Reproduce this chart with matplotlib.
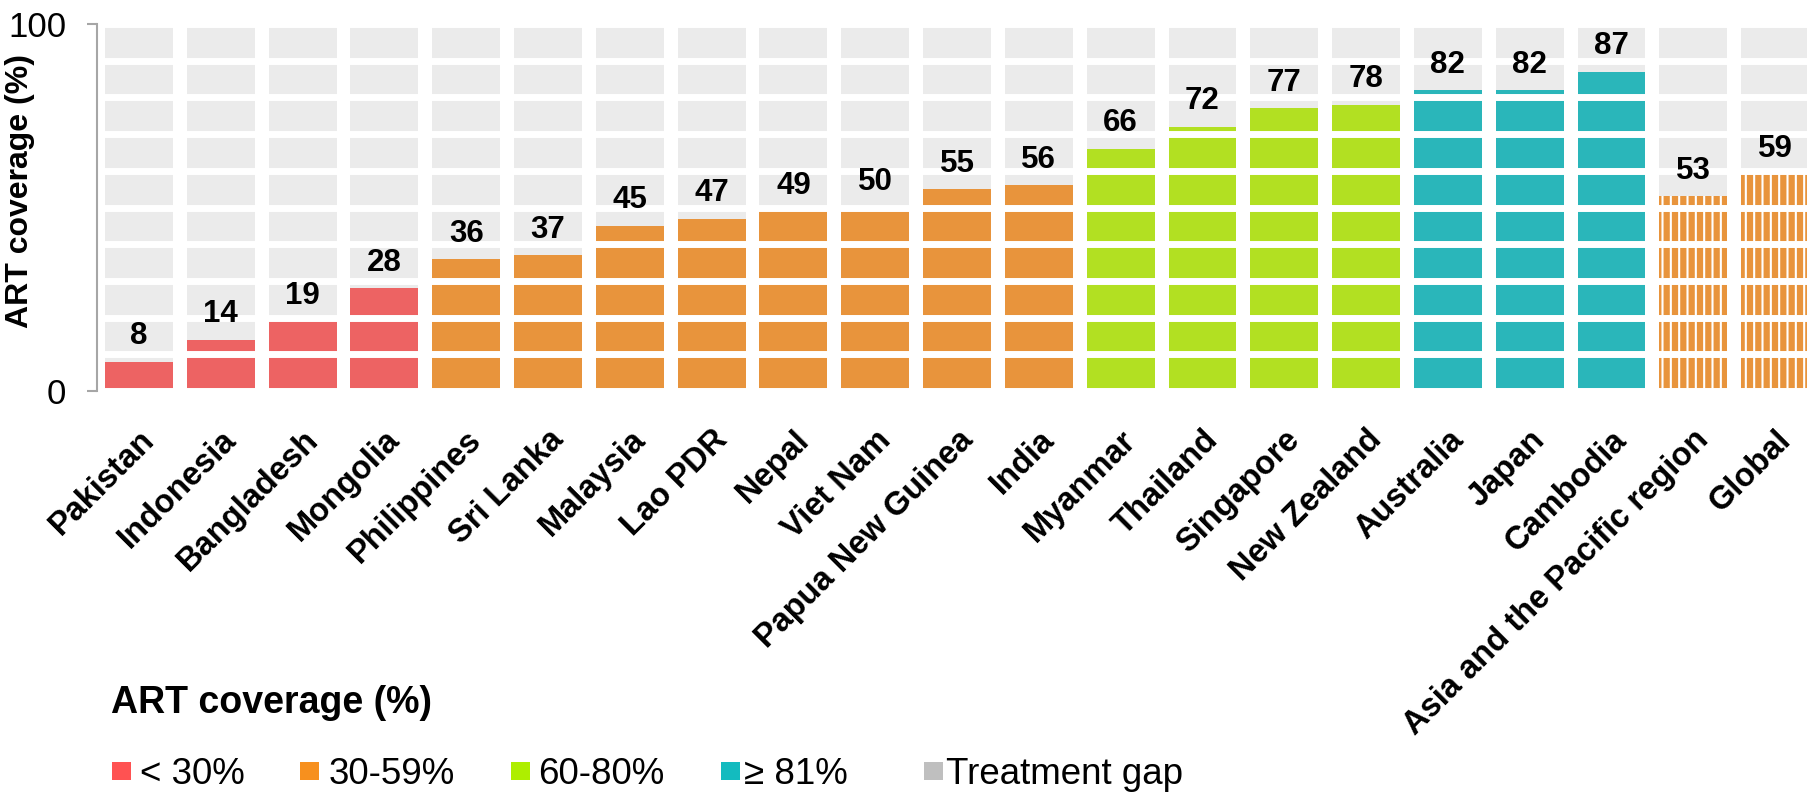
import matplotlib
matplotlib.use("Agg")
import matplotlib.pyplot as plt
from matplotlib.patches import Rectangle

plt.rcParams['font.family'] = ['Liberation Sans', 'DejaVu Sans']
plt.rcParams['hatch.color'] = 'white'
plt.rcParams['hatch.linewidth'] = 1.5

countries = ["Pakistan", "Indonesia", "Bangladesh", "Mongolia", "Philippines", "Sri Lanka",
             "Malaysia", "Lao PDR", "Nepal", "Viet Nam", "Papua New Guinea", "India",
             "Myanmar", "Thailand", "Singapore", "New Zealand", "Australia", "Japan",
             "Cambodia", "Asia and the Pacific region", "Global"]
coverage = [8, 14, 19, 28, 36, 37, 45, 47, 49, 50, 55, 56, 66, 72, 77, 78, 82, 82, 87, 53, 59]
aggregate = [False] * 19 + [True, True]

band_labels = ["< 30%", "30-59%", "60-80%", "\u2265 81%", "Treatment gap"]
bar_colors = ["#ED6363", "#E8943C", "#B2E022", "#2AB6BA"]
legend_colors = ["#FF5252", "#F7901E", "#AEEE00", "#13BBBF", "#BFBFBF"]
gap_color = "#EBEBEB"


def band(v):
    if v < 30:
        return 0
    if v < 60:
        return 1
    if v <= 80:
        return 2
    return 3


W, H = 1807, 793
fig = plt.figure(figsize=(W / 100, H / 100), dpi=100)
ax = fig.add_axes([97 / W, 1 - 391 / H, (W - 97) / W, (391 - 24) / H])

x = list(range(len(countries)))
bw = 0.83
ax.bar(x, [100] * len(x), width=bw, color=gap_color, linewidth=0, zorder=1)
for i, v in enumerate(coverage):
    c = bar_colors[band(v)]
    if aggregate[i]:
        ax.bar(i, v, width=bw, color=c, edgecolor='white', linewidth=0,
               hatch='||', zorder=2)
    else:
        ax.bar(i, v, width=bw, color=c, linewidth=0, zorder=2)
    ax.annotate(str(v), (i, v), xytext=(0, 12.5), textcoords='offset points',
                ha='center', va='baseline', fontsize=22.5, fontweight='bold',
                zorder=5)

# white separators every 10 units
ax.hlines(list(range(0, 101, 10)), -0.46, len(x) - 0.44, color='white',
          linewidth=5.0, zorder=3)

ax.set_xlim(-0.513, 20.39)
ax.set_ylim(0, 100)
ax.set_yticks([0, 100])
ax.set_yticklabels(["0", "100"], fontsize=25)
for s in ['top', 'right', 'bottom']:
    ax.spines[s].set_visible(False)
ax.spines['left'].set_color('#A6A6A6')
ax.spines['left'].set_linewidth(1.5)
ax.tick_params(axis='y', length=7, width=1.5, color='#A6A6A6', pad=15)
ax.set_xticks(x)
ax.set_xticklabels(countries, rotation=45, ha='right', va='top',
                   rotation_mode='anchor', fontsize=23.5, fontweight='bold')
ax.tick_params(axis='x', length=0, pad=24)

ax.set_ylabel("ART coverage (%)", fontsize=23, fontweight='bold')
ax.yaxis.set_label_coords(-(97 - 35) / (W - 97), (391 - 191) / 367)


def fx(px):
    return px / W


def fy(py):
    return 1 - py / H


fig.text(fx(111), fy(713), "ART coverage (%)", fontsize=27, fontweight='bold',
         ha='left', va='baseline')
sq_x = [112, 300, 511, 721, 924]
tx_x = [140, 329, 538, 744, 946]
for sx, tx, lab, col in zip(sq_x, tx_x, band_labels, legend_colors):
    fig.patches.append(Rectangle((fx(sx), fy(780)), 19 / W, 18 / H,
                                 transform=fig.transFigure, color=col,
                                 linewidth=0))
    fig.text(fx(tx), fy(784), lab, fontsize=26.5, ha='left', va='baseline',
             family=['Liberation Sans', 'DejaVu Sans'])

fig.savefig("out.png", dpi=100)
